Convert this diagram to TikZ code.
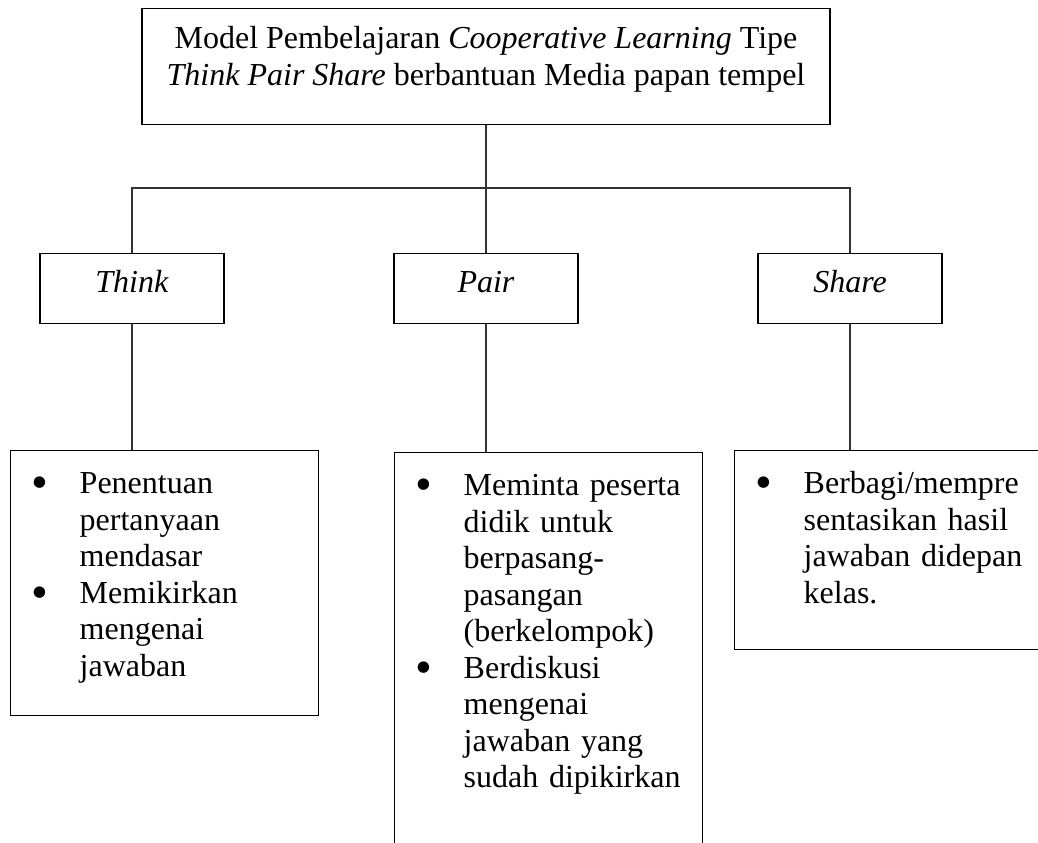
\documentclass[tikz,border=0pt]{standalone}
\usepackage{fontspec}
\setmainfont{Liberation Serif}
\usetikzlibrary{calc,positioning}

% bulleted lines inside the lower boxes
\newcommand{\dotmark}{\raisebox{-1.9pt}{\scalebox{1.5}{\textbullet}}}
\newcommand{\pointlist}[1]{%
    \begin{tabular}[t]{@{\hspace{7.9pt}}p{18pt}@{}l@{}}#1\end{tabular}}

\begin{document}
\begin{tikzpicture}[
    x=0.375pt, y=-0.375pt,
    box/.style={rectangle,
        draw=black,
        line width=0.5pt,
        inner sep=0pt,
        font=\fontsize{12pt}{13.7pt}\selectfont},
    stage/.style={box,
        minimum width=69pt,
        text height=14.6pt,
        text depth=11.6pt},
    listbox/.style={box,
        text width=115.5pt,
        align=left,
        text height=16.1pt},
    link/.style={line width=0.5pt, draw=black!80},
    ]
    \useasboundingbox (0,0) rectangle (1038,843);

    \node [box, minimum width=258pt, text height=15pt, text depth=28.5pt, anchor=north] (model) at (486,8)
        {\begin{tabular}[t]{@{}c@{}}
         Model Pembelajaran \textit{Cooperative Learning} Tipe\\
         \textit{Think Pair Share} berbantuan Media papan tempel
         \end{tabular}};

    \node [stage, anchor=north] (think) at (132,253) {\textit{Think}};
    \node [stage, anchor=north] (pair)  at (486,253) {\textit{Pair}};
    \node [stage, anchor=north] (share) at (850,253) {\textit{Share}};

    \node [listbox, text depth=83.25pt, anchor=north west] (thinklist) at (10,450)
        {\pointlist{\dotmark & Penentuan\\ & pertanyaan\\ & mendasar\\
                    \dotmark & Memikirkan\\ & mengenai\\ & jawaban}};
    \node [listbox, text depth=150pt, anchor=north west] (pairlist) at (394,452)
        {\pointlist{\dotmark & Meminta peserta\\ & didik untuk\\ & berpasang-\\ & pasangan\\ & (berkelompok)\\
                    \dotmark & Berdiskusi\\ & mengenai\\ & jawaban yang\\ & sudah dipikirkan}};
    \node [listbox, text width=122pt, text depth=58.5pt, anchor=north west] (sharelist) at (734,450)
        {\pointlist{\dotmark & Berbagi/mempre\\ & sentasikan hasil\\ & jawaban didepan\\ & kelas.}};

    \coordinate (hub) at (486,188);

    \draw [link] (model.south) -- (hub);
    \draw [link] (think.north) |- (hub) -| (share.north);
    \draw [link] (hub) -- (pair.north);

    \draw [link] (think.south) -- (think.south |- thinklist.north);
    \draw [link] (pair.south) -- (pair.south |- pairlist.north);
    \draw [link] (share.south) -- (share.south |- sharelist.north);
\end{tikzpicture}
\end{document}
